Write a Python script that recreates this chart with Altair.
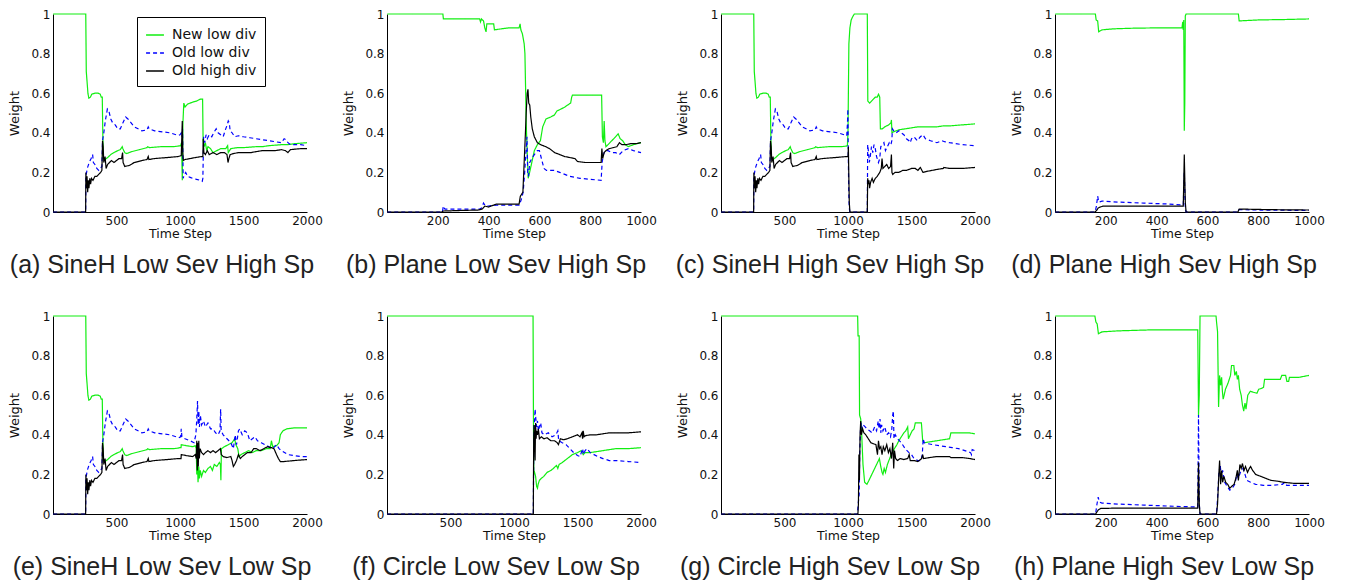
import altair as alt
import pandas as pd

SERIES = ["New low div", "Old low div", "Old high div"]
COLORS = ["#11ee11", "#0000ff", "#000000"]
DASHES = [[1, 0], [4, 3], [1, 0]]

CAPTIONS = [
    "(a) SineH Low Sev High Sp", "(b) Plane Low Sev High Sp",
    "(c) SineH High Sev High Sp", "(d) Plane High Sev High Sp",
    "(e) SineH Low Sev Low Sp", "(f) Circle Low Sev Low Sp",
    "(g) Circle High Sev Low Sp", "(h) Plane High Sev Low Sp",
]
X_MAX = [2000, 1000, 2000, 1000, 2000, 2000, 2000, 1000]
X_TICKS_2000 = [500, 1000, 1500, 2000]
X_TICKS_1000 = [200, 400, 600, 800, 1000]
Y_TICKS = [0, 0.2, 0.4, 0.6, 0.8, 1]

# ---- SineH shared first part (t <= 985) ----
SH_NEW = [(1, 1.0), (258, 1.0), (262, 0.71), (268, 0.66), (275, 0.60), (282, 0.575), (295, 0.58),
          (305, 0.595), (330, 0.60), (355, 0.60), (372, 0.595), (380, 0.58), (388, 0.58), (392, 0.40),
          (396, 0.27), (410, 0.265), (430, 0.275), (455, 0.29), (480, 0.30), (510, 0.31), (530, 0.315),
          (545, 0.33), (550, 0.32), (565, 0.30), (580, 0.295), (620, 0.305), (680, 0.315), (740, 0.325),
          (745, 0.33), (760, 0.325), (850, 0.33), (950, 0.33), (985, 0.333)]
SH_LOW = [(1, 0.0), (257, 0.0), (259, 0.18), (270, 0.22), (285, 0.25), (300, 0.27), (312, 0.29),
          (318, 0.25), (330, 0.24), (345, 0.22), (360, 0.21), (372, 0.22), (385, 0.23), (390, 0.36),
          (400, 0.40), (412, 0.46), (428, 0.52), (440, 0.51), (455, 0.47), (470, 0.45), (490, 0.44),
          (510, 0.42), (530, 0.42), (550, 0.45), (572, 0.48), (590, 0.47), (615, 0.45), (640, 0.43),
          (670, 0.42), (700, 0.41), (740, 0.415), (750, 0.43), (758, 0.42), (800, 0.41), (860, 0.405),
          (920, 0.40), (985, 0.387)]
SH_HIGH = [(1, 0.0), (257, 0.0), (259, 0.20), (263, 0.12), (268, 0.18), (273, 0.10), (278, 0.16),
           (283, 0.12), (290, 0.17), (296, 0.14), (303, 0.17), (315, 0.16), (330, 0.18), (345, 0.18),
           (360, 0.19), (375, 0.20), (385, 0.21), (390, 0.36), (395, 0.33), (400, 0.25), (410, 0.28),
           (418, 0.22), (430, 0.24), (445, 0.25), (460, 0.26), (480, 0.25), (500, 0.26), (520, 0.27),
           (540, 0.27), (548, 0.30), (552, 0.25), (565, 0.23), (600, 0.235), (640, 0.25), (700, 0.26),
           (740, 0.265), (750, 0.28), (755, 0.265), (800, 0.27), (900, 0.275), (985, 0.28)]

# ---- (a) tails ----
A_NEW = [(1005, 0.335), (1012, 0.35), (1018, 0.16), (1023, 0.45), (1030, 0.55), (1040, 0.53), (1060, 0.545),
         (1080, 0.55), (1100, 0.555), (1130, 0.56), (1160, 0.57), (1178, 0.57), (1182, 0.36), (1190, 0.33),
         (1200, 0.35), (1210, 0.31), (1220, 0.33), (1240, 0.32), (1260, 0.30), (1290, 0.31), (1320, 0.32),
         (1360, 0.32), (1375, 0.335), (1380, 0.30), (1390, 0.31), (1400, 0.32), (1450, 0.325), (1500, 0.325),
         (1600, 0.33), (1650, 0.33), (1700, 0.335), (1800, 0.34), (1850, 0.34), (1900, 0.345), (2000, 0.35)]
A_LOW = [(1000, 0.39), (1010, 0.40), (1015, 0.38), (1020, 0.42), (1025, 0.17), (1035, 0.19), (1045, 0.20),
         (1060, 0.18), (1080, 0.175), (1100, 0.17), (1130, 0.165), (1160, 0.16), (1175, 0.155), (1180, 0.17),
         (1186, 0.38), (1195, 0.35), (1205, 0.39), (1215, 0.37), (1230, 0.39), (1250, 0.38), (1265, 0.40),
         (1285, 0.42), (1300, 0.40), (1320, 0.39), (1340, 0.38), (1360, 0.42), (1372, 0.44), (1380, 0.46),
         (1388, 0.45), (1395, 0.41), (1410, 0.40), (1430, 0.38), (1460, 0.385), (1500, 0.38), (1550, 0.375),
         (1600, 0.37), (1650, 0.365), (1700, 0.36), (1750, 0.355), (1800, 0.35), (1820, 0.37), (1835, 0.365),
         (1850, 0.35), (1870, 0.34), (1950, 0.34), (2000, 0.335)]
A_HIGH = [(1010, 0.285), (1018, 0.46), (1022, 0.30), (1026, 0.26), (1040, 0.265), (1080, 0.27), (1120, 0.275),
          (1170, 0.28), (1180, 0.28), (1183, 0.37), (1188, 0.30), (1200, 0.29), (1215, 0.31), (1230, 0.29),
          (1260, 0.30), (1290, 0.29), (1320, 0.30), (1350, 0.30), (1370, 0.29), (1378, 0.25), (1385, 0.27),
          (1395, 0.29), (1420, 0.295), (1460, 0.30), (1500, 0.30), (1560, 0.30), (1600, 0.305), (1650, 0.31),
          (1700, 0.31), (1750, 0.31), (1800, 0.315), (1830, 0.31), (1850, 0.30), (1870, 0.315), (1950, 0.32),
          (2000, 0.32)]

# ---- (b) Plane Low Sev High Sp ----
B_NEW = [(1, 1.0), (220, 1.0), (222, 0.975), (300, 0.975), (365, 0.975), (368, 0.96), (372, 0.975),
         (380, 0.965), (385, 0.93), (390, 0.91), (393, 0.95), (400, 0.95), (420, 0.95), (423, 0.92),
         (450, 0.925), (480, 0.93), (520, 0.93), (524, 0.95), (527, 0.92), (533, 0.90), (540, 0.85),
         (543, 0.80), (546, 0.60), (548, 0.45), (552, 0.30), (556, 0.17), (565, 0.22), (580, 0.31),
         (592, 0.34), (604, 0.36), (613, 0.43), (626, 0.47), (645, 0.48), (659, 0.49), (669, 0.51),
         (685, 0.52), (700, 0.53), (711, 0.54), (723, 0.55), (727, 0.58), (730, 0.59), (845, 0.59),
         (848, 0.38), (852, 0.35), (855, 0.46), (858, 0.36), (862, 0.33), (870, 0.34), (885, 0.36),
         (900, 0.38), (910, 0.395), (918, 0.37), (928, 0.36), (938, 0.34), (950, 0.33), (970, 0.34),
         (1000, 0.35)]
B_LOW = [(1, 0.0), (218, 0.0), (222, 0.03), (228, 0.015), (300, 0.015), (365, 0.015), (372, 0.02),
         (380, 0.045), (388, 0.03), (400, 0.03), (430, 0.035), (480, 0.035), (520, 0.035), (528, 0.06),
         (536, 0.10), (542, 0.20), (547, 0.30), (551, 0.38), (554, 0.20), (557, 0.18), (562, 0.25),
         (570, 0.27), (580, 0.29), (592, 0.31), (600, 0.31), (608, 0.27), (618, 0.22), (628, 0.21),
         (660, 0.21), (680, 0.20), (700, 0.19), (720, 0.18), (760, 0.17), (800, 0.165), (843, 0.16),
         (847, 0.25), (852, 0.29), (858, 0.31), (870, 0.31), (885, 0.30), (900, 0.30), (915, 0.29),
         (930, 0.31), (950, 0.32), (970, 0.31), (1000, 0.30)]
B_HIGH = [(1, 0.0), (215, 0.0), (222, 0.005), (300, 0.008), (360, 0.01), (375, 0.015), (385, 0.03),
          (400, 0.025), (420, 0.035), (430, 0.04), (480, 0.04), (520, 0.04), (525, 0.08), (535, 0.10),
          (540, 0.25), (545, 0.40), (548, 0.50), (552, 0.60), (555, 0.62), (558, 0.55), (562, 0.54),
          (566, 0.48), (572, 0.42), (580, 0.38), (592, 0.35), (605, 0.34), (615, 0.335), (625, 0.33),
          (640, 0.32), (660, 0.30), (680, 0.29), (700, 0.28), (720, 0.275), (740, 0.27), (750, 0.255),
          (780, 0.25), (843, 0.25), (846, 0.32), (849, 0.27), (855, 0.30), (862, 0.31), (875, 0.32),
          (890, 0.325), (905, 0.33), (915, 0.35), (925, 0.34), (940, 0.34), (960, 0.345), (980, 0.345),
          (1000, 0.35)]

# ---- (c) tails ----
C_NEW = [(995, 0.335), (1000, 0.40), (1003, 0.60), (1007, 0.85), (1015, 0.93), (1025, 0.97), (1040, 0.99),
         (1050, 1.0), (1152, 1.0), (1156, 0.56), (1170, 0.55), (1185, 0.56), (1200, 0.57), (1215, 0.58),
         (1230, 0.58), (1240, 0.595), (1250, 0.58), (1255, 0.42), (1270, 0.42), (1290, 0.43), (1320, 0.44),
         (1338, 0.45), (1342, 0.465), (1346, 0.40), (1360, 0.405), (1380, 0.41), (1400, 0.415), (1450, 0.42),
         (1500, 0.425), (1550, 0.43), (1600, 0.43), (1700, 0.43), (1750, 0.435), (1800, 0.435), (1900, 0.44),
         (2000, 0.445)]
C_LOW = [(990, 0.385), (996, 0.45), (999, 0.52), (1002, 0.30), (1006, 0.10), (1010, 0.02), (1015, 0.0),
         (1152, 0.0), (1155, 0.34), (1162, 0.30), (1168, 0.25), (1175, 0.28), (1185, 0.33), (1195, 0.30),
         (1205, 0.34), (1215, 0.32), (1225, 0.28), (1240, 0.25), (1250, 0.27), (1258, 0.33), (1270, 0.34),
         (1283, 0.35), (1295, 0.31), (1310, 0.33), (1325, 0.35), (1338, 0.34), (1345, 0.36), (1350, 0.42),
         (1360, 0.41), (1380, 0.40), (1400, 0.41), (1420, 0.40), (1440, 0.39), (1460, 0.37), (1480, 0.36),
         (1490, 0.35), (1500, 0.37), (1520, 0.38), (1545, 0.36), (1570, 0.38), (1590, 0.39), (1610, 0.37),
         (1650, 0.36), (1700, 0.35), (1740, 0.36), (1760, 0.355), (1800, 0.35), (1900, 0.34), (2000, 0.335)]
C_HIGH = [(1000, 0.28), (1003, 0.33), (1006, 0.20), (1010, 0.05), (1015, 0.0), (1152, 0.0), (1155, 0.17),
          (1160, 0.14), (1165, 0.16), (1170, 0.12), (1178, 0.15), (1190, 0.17), (1200, 0.15), (1215, 0.17),
          (1230, 0.18), (1250, 0.20), (1262, 0.22), (1268, 0.27), (1275, 0.22), (1290, 0.23), (1305, 0.24),
          (1320, 0.22), (1335, 0.23), (1342, 0.29), (1346, 0.20), (1352, 0.19), (1370, 0.20), (1400, 0.20),
          (1430, 0.21), (1460, 0.21), (1500, 0.22), (1530, 0.22), (1550, 0.21), (1570, 0.225), (1590, 0.20),
          (1620, 0.205), (1660, 0.21), (1700, 0.215), (1750, 0.22), (1755, 0.225), (1800, 0.22), (1900, 0.22),
          (2000, 0.225)]

# ---- (d) Plane High Sev High Sp ----
D_NEW = [(1, 1.0), (159, 1.0), (162, 0.97), (168, 0.965), (172, 0.91), (178, 0.915), (185, 0.92),
         (230, 0.925), (300, 0.928), (400, 0.93), (500, 0.93), (503, 0.96), (505, 0.92), (507, 0.97),
         (509, 0.41), (511, 0.55), (513, 0.99), (516, 1.0), (722, 1.0), (725, 0.965), (800, 0.97),
         (900, 0.972), (1000, 0.975)]
D_LOW = [(1, 0.0), (158, 0.0), (163, 0.03), (168, 0.08), (172, 0.05), (185, 0.055), (250, 0.05),
         (350, 0.045), (450, 0.04), (505, 0.035), (509, 0.2), (513, 0.02), (516, 0.0), (720, 0.0),
         (725, 0.012), (800, 0.01), (1000, 0.008)]
D_HIGH = [(1, 0.0), (158, 0.0), (165, 0.01), (170, 0.02), (178, 0.025), (190, 0.03), (300, 0.03),
          (400, 0.03), (505, 0.03), (509, 0.29), (513, 0.05), (516, 0.0), (720, 0.0), (725, 0.015),
          (800, 0.013), (900, 0.011), (1000, 0.01)]

# ---- (e) tails ----
E_NEW = [(1000, 0.335), (1008, 0.335), (1010, 0.35), (1050, 0.345), (1100, 0.34), (1120, 0.345),
         (1128, 0.33), (1132, 0.20), (1138, 0.25), (1142, 0.16), (1148, 0.24), (1153, 0.18), (1160, 0.22),
         (1170, 0.19), (1185, 0.22), (1200, 0.21), (1220, 0.23), (1240, 0.24), (1255, 0.22), (1270, 0.25),
         (1290, 0.24), (1310, 0.26), (1318, 0.25), (1322, 0.17), (1326, 0.33), (1350, 0.34), (1380, 0.35),
         (1410, 0.36), (1430, 0.38), (1440, 0.35), (1455, 0.33), (1465, 0.29), (1480, 0.30), (1510, 0.31),
         (1540, 0.32), (1570, 0.31), (1600, 0.32), (1640, 0.32), (1680, 0.33), (1710, 0.33), (1720, 0.37),
         (1730, 0.34), (1760, 0.345), (1780, 0.36), (1790, 0.40), (1810, 0.42), (1840, 0.43), (1900, 0.435),
         (2000, 0.435)]
E_LOW = [(990, 0.385), (1005, 0.39), (1010, 0.43), (1015, 0.39), (1040, 0.38), (1080, 0.37), (1110, 0.36),
         (1125, 0.40), (1132, 0.48), (1138, 0.57), (1143, 0.45), (1148, 0.52), (1153, 0.44), (1160, 0.50),
         (1170, 0.45), (1185, 0.47), (1200, 0.44), (1220, 0.46), (1240, 0.43), (1260, 0.43), (1280, 0.41),
         (1300, 0.40), (1315, 0.42), (1320, 0.53), (1324, 0.42), (1340, 0.40), (1370, 0.38), (1400, 0.36),
         (1420, 0.33), (1435, 0.40), (1445, 0.35), (1460, 0.42), (1470, 0.43), (1490, 0.40), (1510, 0.42),
         (1530, 0.41), (1550, 0.37), (1570, 0.38), (1590, 0.39), (1610, 0.37), (1640, 0.36), (1670, 0.35),
         (1700, 0.34), (1730, 0.33), (1760, 0.35), (1780, 0.33), (1800, 0.32), (1850, 0.30), (1900, 0.295),
         (1950, 0.29), (2000, 0.29)]
E_HIGH = [(1000, 0.28), (1008, 0.28), (1010, 0.30), (1050, 0.295), (1100, 0.29), (1120, 0.30), (1128, 0.28),
          (1132, 0.37), (1136, 0.22), (1140, 0.36), (1144, 0.24), (1148, 0.37), (1152, 0.28), (1158, 0.33),
          (1170, 0.31), (1185, 0.30), (1200, 0.31), (1220, 0.32), (1240, 0.31), (1260, 0.32), (1280, 0.31),
          (1300, 0.32), (1318, 0.33), (1325, 0.30), (1340, 0.29), (1370, 0.285), (1400, 0.29), (1410, 0.27),
          (1420, 0.24), (1430, 0.25), (1445, 0.27), (1460, 0.30), (1475, 0.28), (1490, 0.29), (1510, 0.30),
          (1530, 0.31), (1560, 0.31), (1580, 0.33), (1600, 0.33), (1630, 0.32), (1660, 0.33), (1690, 0.34),
          (1720, 0.335), (1740, 0.33), (1760, 0.30), (1775, 0.28), (1790, 0.265), (1820, 0.265), (1900, 0.27),
          (2000, 0.275)]

# ---- (f) Circle Low Sev Low Sp ----
F_NEW = [(1, 1.0), (1150, 1.0), (1153, 0.50), (1156, 0.20), (1162, 0.21), (1170, 0.19), (1178, 0.14),
         (1185, 0.13), (1190, 0.15), (1200, 0.17), (1215, 0.18), (1235, 0.19), (1260, 0.21), (1290, 0.22),
         (1310, 0.23), (1325, 0.24), (1335, 0.245), (1345, 0.23), (1355, 0.25), (1380, 0.26), (1420, 0.28),
         (1460, 0.30), (1500, 0.31), (1530, 0.32), (1545, 0.30), (1560, 0.31), (1600, 0.31), (1650, 0.315),
         (1700, 0.32), (1750, 0.325), (1800, 0.33), (1900, 0.33), (2000, 0.335)]
F_LOW = [(1, 0.0), (1152, 0.0), (1155, 0.30), (1160, 0.45), (1166, 0.53), (1172, 0.48), (1178, 0.44),
         (1185, 0.47), (1192, 0.42), (1200, 0.44), (1210, 0.46), (1220, 0.41), (1240, 0.40), (1270, 0.41),
         (1300, 0.39), (1330, 0.40), (1345, 0.42), (1352, 0.37), (1380, 0.36), (1410, 0.35), (1440, 0.33),
         (1470, 0.31), (1500, 0.295), (1520, 0.29), (1540, 0.33), (1548, 0.30), (1560, 0.32), (1575, 0.33),
         (1600, 0.31), (1630, 0.30), (1660, 0.29), (1700, 0.28), (1750, 0.27), (1800, 0.27), (1900, 0.265),
         (2000, 0.26)]
F_HIGH = [(1, 0.0), (1152, 0.0), (1155, 0.38), (1158, 0.45), (1162, 0.36), (1166, 0.27), (1170, 0.46),
          (1174, 0.38), (1178, 0.42), (1185, 0.40), (1192, 0.43), (1200, 0.38), (1215, 0.39), (1235, 0.38),
          (1260, 0.385), (1290, 0.37), (1320, 0.37), (1340, 0.36), (1350, 0.35), (1365, 0.38), (1390, 0.375),
          (1420, 0.38), (1460, 0.39), (1500, 0.40), (1520, 0.39), (1535, 0.41), (1540, 0.38), (1545, 0.42),
          (1552, 0.39), (1560, 0.395), (1600, 0.40), (1650, 0.40), (1700, 0.405), (1750, 0.41), (1800, 0.41),
          (1900, 0.41), (2000, 0.415)]

# ---- (g) Circle High Sev Low Sp ----
G_NEW = [(1, 1.0), (1076, 1.0), (1079, 0.90), (1088, 0.90), (1091, 0.50), (1100, 0.48), (1108, 0.40),
         (1118, 0.25), (1131, 0.16), (1149, 0.15), (1165, 0.17), (1180, 0.19), (1195, 0.21), (1210, 0.23),
         (1225, 0.25), (1240, 0.27), (1247, 0.28), (1258, 0.24), (1268, 0.21), (1275, 0.20), (1285, 0.23),
         (1295, 0.21), (1310, 0.25), (1322, 0.27), (1340, 0.30), (1365, 0.33), (1385, 0.35), (1400, 0.37),
         (1420, 0.39), (1440, 0.41), (1455, 0.42), (1470, 0.44), (1476, 0.38), (1490, 0.40), (1505, 0.42),
         (1520, 0.43), (1530, 0.46), (1560, 0.46), (1578, 0.46), (1588, 0.37), (1600, 0.36), (1650, 0.365),
         (1700, 0.37), (1750, 0.375), (1800, 0.38), (1810, 0.41), (1850, 0.41), (1900, 0.41), (1950, 0.41),
         (2000, 0.405)]
G_LOW = [(1, 0.0), (1075, 0.0), (1080, 0.05), (1088, 0.10), (1092, 0.30), (1098, 0.42), (1104, 0.46),
         (1112, 0.43), (1120, 0.45), (1135, 0.44), (1150, 0.43), (1170, 0.42), (1190, 0.41), (1210, 0.44),
         (1225, 0.42), (1238, 0.47), (1245, 0.43), (1252, 0.48), (1258, 0.41), (1265, 0.45), (1275, 0.42),
         (1290, 0.44), (1305, 0.40), (1320, 0.41), (1335, 0.39), (1345, 0.43), (1352, 0.50), (1357, 0.52),
         (1362, 0.38), (1372, 0.40), (1390, 0.38), (1420, 0.36), (1450, 0.33), (1480, 0.31), (1500, 0.30),
         (1520, 0.28), (1550, 0.27), (1575, 0.27), (1585, 0.30), (1592, 0.38), (1600, 0.36), (1630, 0.355),
         (1670, 0.35), (1720, 0.345), (1770, 0.34), (1820, 0.335), (1870, 0.33), (1920, 0.32), (1965, 0.31),
         (1972, 0.30), (1978, 0.325), (2000, 0.32)]
G_HIGH = [(1, 0.0), (1078, 0.0), (1082, 0.05), (1086, 0.30), (1090, 0.17), (1095, 0.40), (1100, 0.47),
          (1105, 0.40), (1115, 0.43), (1125, 0.41), (1140, 0.40), (1160, 0.38), (1180, 0.36), (1200, 0.355),
          (1220, 0.35), (1232, 0.30), (1240, 0.37), (1248, 0.33), (1258, 0.34), (1268, 0.30), (1278, 0.34),
          (1290, 0.32), (1305, 0.35), (1318, 0.31), (1330, 0.33), (1342, 0.28), (1352, 0.36), (1360, 0.23),
          (1366, 0.32), (1375, 0.28), (1390, 0.27), (1410, 0.28), (1440, 0.275), (1470, 0.28), (1482, 0.30),
          (1490, 0.27), (1520, 0.27), (1550, 0.265), (1580, 0.28), (1588, 0.30), (1595, 0.28), (1640, 0.285),
          (1700, 0.29), (1750, 0.29), (1800, 0.29), (1810, 0.285), (1900, 0.285), (1960, 0.28), (2000, 0.275)]

# ---- (h) Plane High Sev Low Sp ----
H_NEW = [(1, 1.0), (157, 1.0), (161, 0.97), (166, 0.96), (171, 0.91), (178, 0.915), (185, 0.92),
         (250, 0.925), (380, 0.93), (562, 0.93), (565, 0.50), (568, 0.60), (571, 1.0), (634, 1.0),
         (636, 0.97), (640, 0.92), (644, 0.54), (648, 0.70), (652, 0.65), (656, 0.69), (659, 0.62),
         (662, 0.58), (666, 0.60), (671, 0.63), (681, 0.66), (691, 0.70), (695, 0.75), (704, 0.75),
         (708, 0.70), (714, 0.72), (718, 0.68), (722, 0.70), (727, 0.63), (733, 0.60), (738, 0.55),
         (743, 0.52), (748, 0.56), (752, 0.53), (759, 0.60), (769, 0.62), (780, 0.615), (795, 0.61),
         (802, 0.63), (815, 0.635), (821, 0.64), (825, 0.68), (850, 0.68), (887, 0.68), (893, 0.70),
         (908, 0.70), (913, 0.67), (920, 0.67), (923, 0.69), (960, 0.69), (1000, 0.70)]
H_LOW = [(1, 0.0), (160, 0.0), (164, 0.04), (170, 0.085), (175, 0.06), (185, 0.055), (250, 0.05),
         (350, 0.045), (450, 0.04), (562, 0.035), (565, 0.50), (568, 0.05), (571, 0.0), (636, 0.0),
         (640, 0.08), (645, 0.20), (650, 0.25), (655, 0.19), (660, 0.22), (668, 0.16), (678, 0.14),
         (688, 0.12), (698, 0.13), (708, 0.15), (716, 0.20), (722, 0.18), (730, 0.21), (740, 0.23),
         (748, 0.20), (755, 0.17), (770, 0.16), (790, 0.15), (820, 0.145), (860, 0.145), (895, 0.15),
         (905, 0.16), (912, 0.145), (950, 0.145), (1000, 0.145)]
H_HIGH = [(1, 0.0), (160, 0.0), (165, 0.01), (170, 0.02), (180, 0.028), (250, 0.03), (400, 0.03),
          (562, 0.03), (565, 0.26), (568, 0.05), (571, 0.0), (636, 0.0), (640, 0.05), (645, 0.20),
          (648, 0.27), (652, 0.15), (656, 0.22), (660, 0.16), (665, 0.19), (672, 0.16), (680, 0.15),
          (688, 0.13), (696, 0.14), (705, 0.15), (712, 0.18), (718, 0.22), (722, 0.17), (728, 0.25),
          (733, 0.23), (738, 0.255), (744, 0.22), (750, 0.24), (758, 0.21), (765, 0.23), (770, 0.24),
          (778, 0.22), (790, 0.20), (810, 0.19), (830, 0.18), (850, 0.17), (880, 0.165), (900, 0.16),
          (940, 0.155), (1000, 0.155)]

PANELS = [
    (SH_NEW + A_NEW, SH_LOW + A_LOW, SH_HIGH + A_HIGH),
    (B_NEW, B_LOW, B_HIGH),
    (SH_NEW + C_NEW, SH_LOW + C_LOW, SH_HIGH + C_HIGH),
    (D_NEW, D_LOW, D_HIGH),
    (SH_NEW + E_NEW, SH_LOW + E_LOW, SH_HIGH + E_HIGH),
    (F_NEW, F_LOW, F_HIGH),
    (G_NEW, G_LOW, G_HIGH),
    (H_NEW, H_LOW, H_HIGH),
]

W, H = 254, 198


def make_panel(k):
    rows = []
    for name, pts in zip(SERIES, PANELS[k]):
        for i, (t, v) in enumerate(pts):
            rows.append({"t": t, "w": v, "s": name, "i": i})
    df = pd.DataFrame(rows)
    xmax = X_MAX[k]
    ticks = X_TICKS_2000 if xmax == 2000 else X_TICKS_1000
    if k == 0:
        leg = alt.Legend(orient="none", legendX=84, legendY=3, title=None,
                         strokeColor="black", fillColor="white", padding=8,
                         symbolType="stroke", symbolSize=320, symbolStrokeWidth=1.5,
                         labelFont="DejaVu Sans", labelFontSize=14, labelColor="#111111",
                         labelOffset=7, rowPadding=1)
    else:
        leg = None
    chart = alt.Chart(df).mark_line(strokeWidth=1.2).encode(
        x=alt.X("t:Q", scale=alt.Scale(domain=[0, xmax], nice=False, zero=False),
                axis=alt.Axis(values=ticks, title="Time Step", format="d",
                              labelFlush=False, labelOverlap=False)),
        y=alt.Y("w:Q", scale=alt.Scale(domain=[0, 1], nice=False),
                axis=alt.Axis(values=Y_TICKS, format="~g", title="Weight",
                              labelFlush=False, labelOverlap=False)),
        color=alt.Color("s:N", scale=alt.Scale(domain=SERIES, range=COLORS), legend=leg),
        strokeDash=alt.StrokeDash("s:N", scale=alt.Scale(domain=SERIES, range=DASHES), legend=leg),
        order=alt.Order("i:Q"),
    ).properties(
        width=W, height=H,
        title=alt.TitleParams(text=CAPTIONS[k], orient="bottom", anchor="middle", frame="group",
                              dx=-18, offset=13, font="Liberation Sans", fontSize=25,
                              fontWeight="normal", color="#222222"),
    )
    return chart


chart = alt.concat(
    *[make_panel(k) for k in range(8)],
    columns=4, spacing={"row": 104, "column": 80}, bounds="flush",
).resolve_scale(color="independent", strokeDash="independent").resolve_legend(
    color="independent", strokeDash="independent"
).properties(
    padding={"left": 0, "top": 0, "right": 0, "bottom": 0}
).configure_view(strokeWidth=0).configure_axis(
    grid=False, ticks=False, domainColor="#000000", domainWidth=1,
    labelFont="DejaVu Sans", labelFontSize=12, labelColor="#111111", labelPadding=3,
    titleFont="DejaVu Sans", titleFontSize=12.5, titleFontWeight="normal", titleColor="#111111",
).configure_axisX(titlePadding=1).configure_axisY(titlePadding=9, titleFontSize=13)

chart.save("out.html", embed_options={"renderer": "svg", "actions": False})
